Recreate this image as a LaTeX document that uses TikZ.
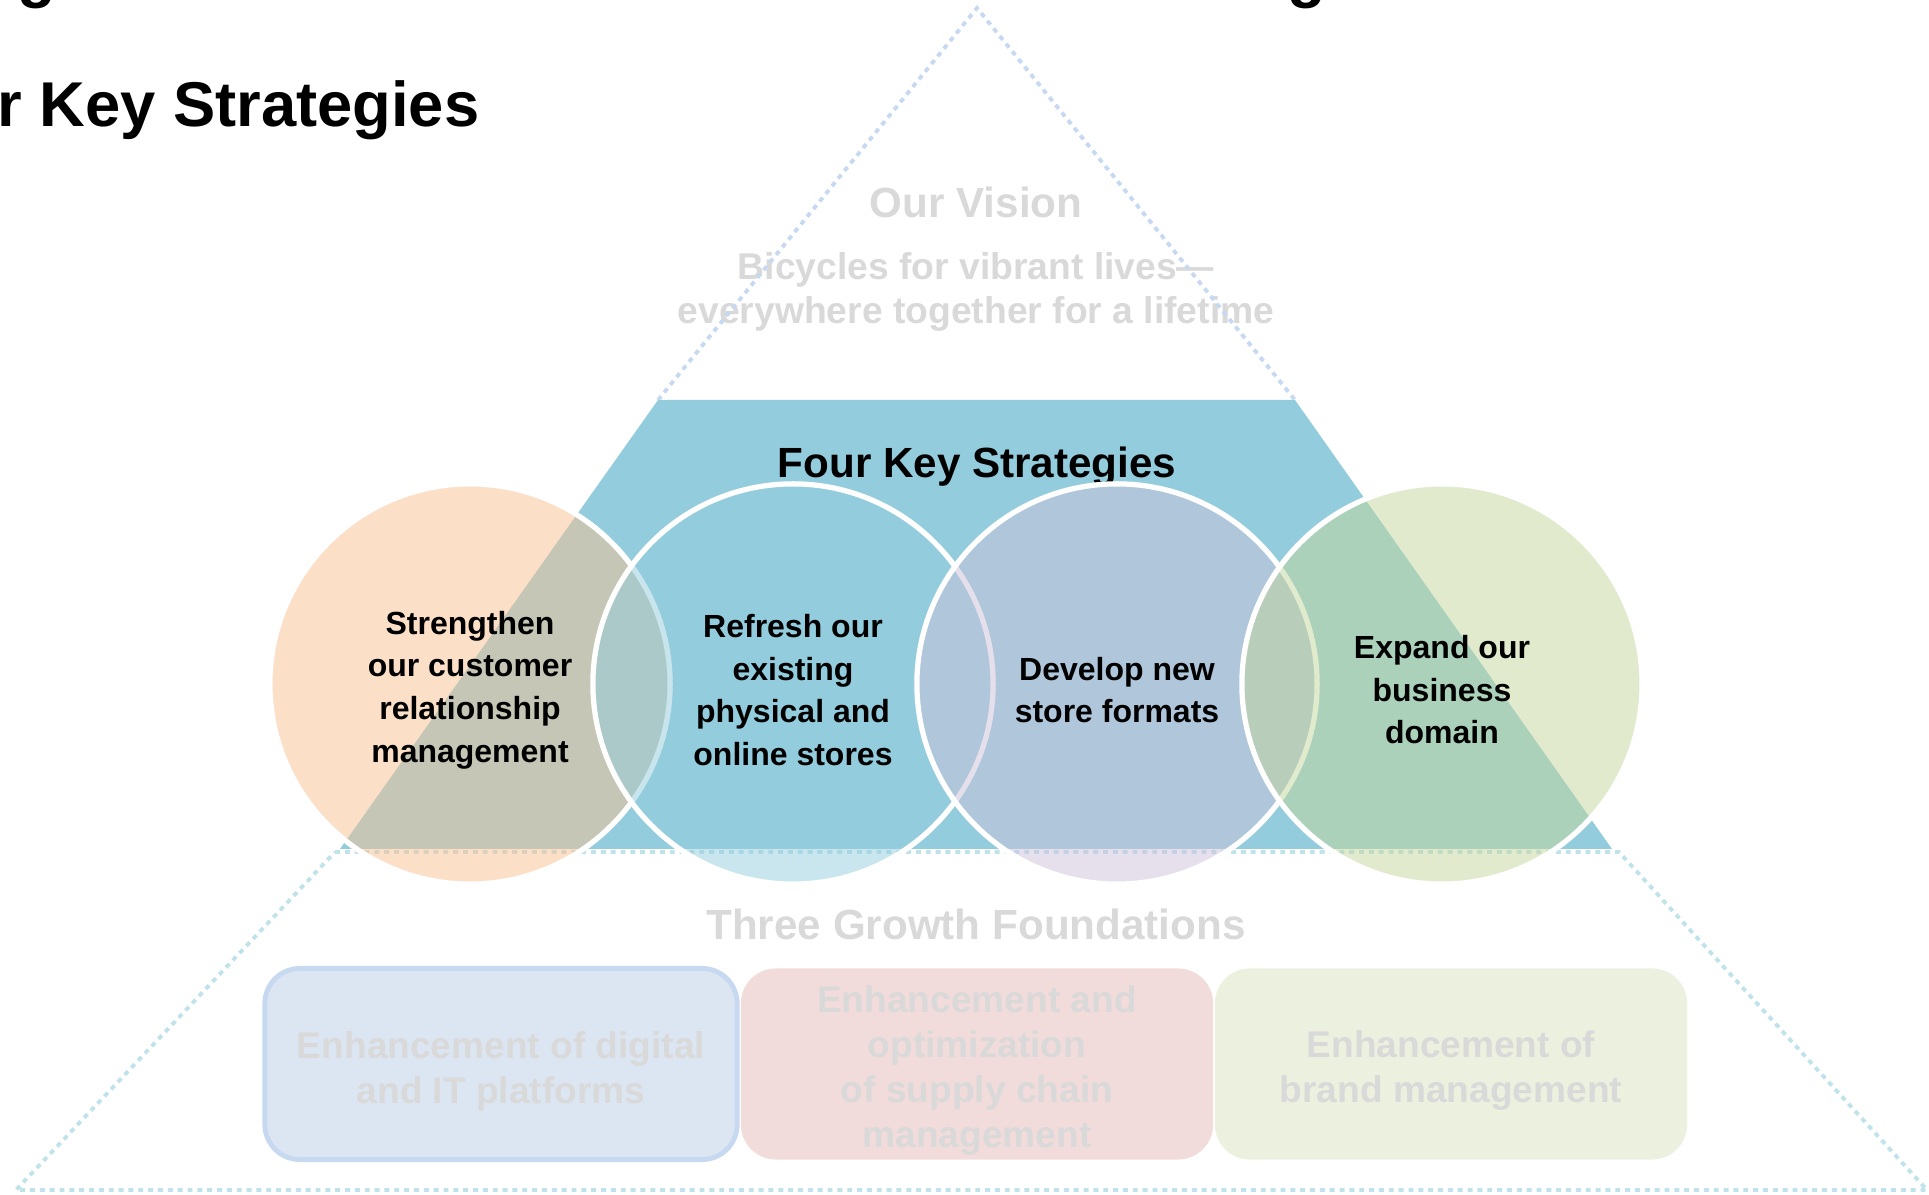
\documentclass[tikz,border=0pt]{standalone}
\usepackage{fontspec}
\setmainfont{Liberation Sans}
\definecolor{kstrap}{HTML}{93CDDD}
\definecolor{visdot}{HTML}{C6D9F1}
\definecolor{fnddot}{HTML}{BFE2EB}
\definecolor{fadetxt}{HTML}{D9D9D9}
\definecolor{crm}{HTML}{FAC090}
\definecolor{shops}{HTML}{93CDDD}
\definecolor{formats}{HTML}{CCC1DA}
\definecolor{domain}{HTML}{C3D69B}
\definecolor{digital}{HTML}{DCE6F2}
\definecolor{digitalln}{HTML}{C6D9F1}
\definecolor{supply}{HTML}{F2DCDB}
\definecolor{brand}{HTML}{EBF1DE}
\newcommand{\topgap}{\rule{0pt}{1.1em}}

\begin{document}
\begin{tikzpicture}[x=0.01cm,y=-0.01cm,
    dots/.style={line width=1.1pt,dash pattern=on 1.4pt off 1.4pt},
    strategy/.style={circle,minimum size=4cm,inner sep=0pt,draw=white,line width=1.5pt,
      fill opacity=.5,text opacity=1,align=center,
      font=\bfseries\fontsize{9.1}{12.1}\selectfont},
    foundation/.style={rectangle,rounded corners=0.35cm,minimum width=4.72cm,
      minimum height=1.91cm,inner sep=0pt,align=center,text=fadetxt,
      font=\bfseries\fontsize{10.55}{12.8}\selectfont}]

        \useasboundingbox (0,0) rectangle (1929,1195);

        \begin{scope}[every node/.style={inner sep=0pt, font=\bfseries\fontsize{18}{21}\selectfont}]
          \node[anchor=base] (g1) at (37,-4) {g};
          \node[anchor=base] (g2) at (1307,-4) {g};
          \node[anchor=base east] (title) at (480,127) {Four Key Strategies};
        \end{scope}

        \begin{scope}[every node/.style={inner sep=0pt, text=fadetxt}]
          \node[anchor=base, font=\bfseries\fontsize{12}{14}\selectfont] (vision) at (976,218) {Our Vision};
          \node[align=center, font=\bfseries\fontsize{10.6}{12.6}\selectfont] (motto) at (976,292)
            {Bicycles for vibrant lives---\\everywhere together for a lifetime};
          \node[anchor=base, font=\bfseries\fontsize{12}{14}\selectfont] (bases) at (976,940) {Three Growth Foundations};
        \end{scope}

        \draw[dots, visdot] (658,400) -- (977,8) -- (1295,400);
        \fill[kstrap] (658,400) -- (1295,400) -- (1612,849) -- (340,849) -- cycle;
        \draw[dots, fnddot] (335,852) -- (1619,852) -- (1927,1190) -- (16,1190) -- cycle;

        \node[anchor=base, inner sep=0pt, font=\bfseries\fontsize{12}{14}\selectfont] (keys) at (977,478) {Four Key Strategies};

        \begin{scope}[every node/.style={strategy}]
          \node[fill=crm]     (1) at (470,684)  {\topgap Strengthen\\our customer\\relationship\\management};
          \node[fill=shops]   (2) at (793,684)  {\topgap Refresh our\\existing\\physical and\\online stores};
          \node[fill=formats] (3) at (1117,684) {\topgap Develop new\\store formats};
          \node[fill=domain]  (4) at (1442,684) {\topgap Expand our\\business\\domain};
        \end{scope}

        \begin{scope}[every node/.style={foundation}]
          \node[fill=digital, draw=digitalln, line width=1.4pt] (5) at (501,1064) {\topgap Enhancement of digital\\and IT platforms};
          \node[fill=supply] (6) at (977,1064) {\topgap Enhancement and\\optimization\\of supply chain\\management};
          \node[fill=brand]  (7) at (1451,1064) {\topgap Enhancement of\\brand management};
        \end{scope}

      \end{tikzpicture}
\end{document}
